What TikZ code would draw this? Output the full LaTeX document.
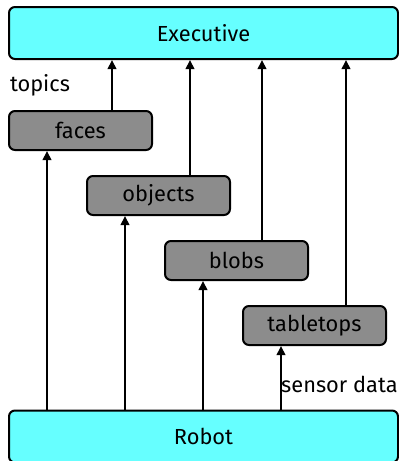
\documentclass[tikz,border=0pt]{standalone}
\usepackage{fontspec}
\setmainfont{Fira Sans}
\usetikzlibrary{arrows.meta}
\definecolor{layercyan}{HTML}{66FFFF}
\definecolor{compgray}{HTML}{8C8C8C}
\tikzset{
  layer/.style={draw=black, line width=2pt, rounded corners=6pt, fill=layercyan,
    minimum width=389pt, minimum height=52pt, inner sep=0pt, font=\fontsize{21.8}{26}\selectfont},
  comp/.style={draw=black, line width=2pt, rounded corners=6pt, fill=compgray,
    minimum width=143pt, minimum height=39pt, inner sep=0pt, font=\fontsize{21.8}{26}\selectfont},
  arr/.style={line width=2pt, -{Triangle[length=9pt,width=8.5pt]}},
  lbl/.style={inner sep=0pt, font=\fontsize{21.8}{26}\selectfont}
}
\begin{document}
\begin{tikzpicture}[x=1pt, y=-1pt]
  \useasboundingbox (0,0) rectangle (399,461);
  % layers
  \node[layer] (exec) at (203.5,33) {Executive};
  \node[layer] (robot) at (203.5,436.5) {Robot};
  % perception components
  \node[comp] (faces) at (80.5,130.5) {faces};
  \node[comp] (objects) at (158.5,195.5) {objects};
  \node[comp] (blobs) at (236.5,260.5) {blobs};
  \node[comp] (tabletops) at (314.5,325.5) {tabletops};
  % topics up to the executive
  \draw[arr] ([xshift=104pt]faces.north west) -- ([xshift=104pt]faces.north west |- exec.south);
  \draw[arr] ([xshift=104pt]objects.north west) -- ([xshift=104pt]objects.north west |- exec.south);
  \draw[arr] ([xshift=98pt]blobs.north west) -- ([xshift=98pt]blobs.north west |- exec.south);
  \draw[arr] ([xshift=104pt]tabletops.north west) -- ([xshift=104pt]tabletops.north west |- exec.south);
  % sensor data from the robot
  \draw[arr] ([xshift=39pt]faces.south west |- robot.north) -- ([xshift=39pt]faces.south west);
  \draw[arr] ([xshift=39pt]objects.south west |- robot.north) -- ([xshift=39pt]objects.south west);
  \draw[arr] ([xshift=39pt]blobs.south west |- robot.north) -- ([xshift=39pt]blobs.south west);
  \draw[arr] ([xshift=39pt]tabletops.south west |- robot.north) -- ([xshift=39pt]tabletops.south west);
  % labels
  \node[lbl] (topics) at (40,85) {topics};
  \node[lbl, anchor=west] (sensor) at (281,384) {sensor data};
\end{tikzpicture}
\end{document}
